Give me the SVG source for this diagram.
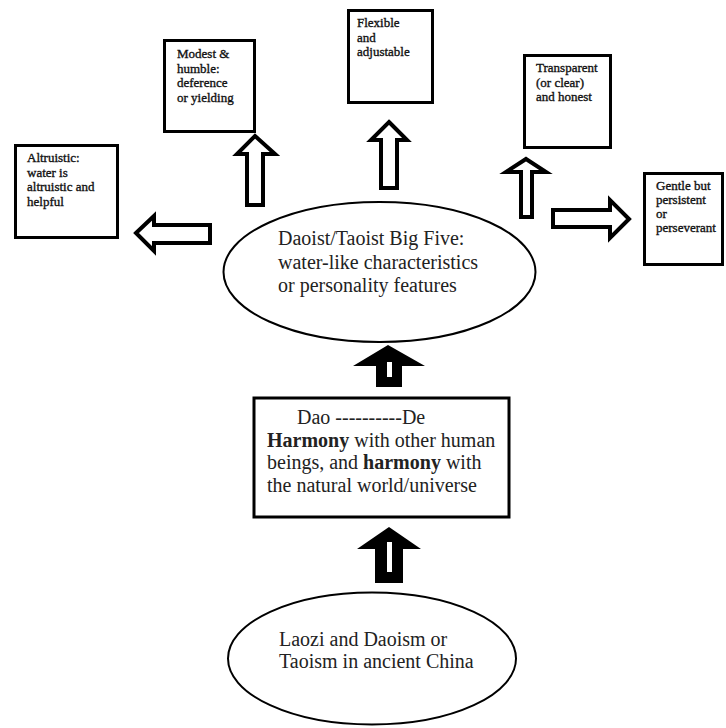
<svg xmlns="http://www.w3.org/2000/svg" width="726" height="728" viewBox="0 0 726 728">
<style>
.box{fill:#fff;stroke:#000;stroke-width:3}
.ell{fill:#fff;stroke:#000;stroke-width:2}
.oarrow{fill:#fff;stroke:#000;stroke-width:4;stroke-linejoin:miter}
.farrow{fill:#000;stroke:none}
.s{font-family:"Liberation Serif","Times New Roman",serif;font-size:13px;fill:#111;stroke:#111;stroke-width:0.35}
.l{font-family:"Liberation Serif","Times New Roman",serif;font-size:20px;fill:#222}
.b{font-weight:bold}
</style>
<rect width="726" height="728" fill="#fff"/>
<g id="connectors">
  <polygon class="oarrow" points="136,233 154,216 154,225 210,225 210,243 154,243 154,251"/>
  <polygon class="oarrow" points="255,136 275,154 263,154 263,205 247,205 247,154 237,154"/>
  <polygon class="oarrow" points="389,122 407,140 397,140 397,188 381,188 381,140 371,140"/>
  <polygon class="oarrow" points="526,159 546,172 532,172 532,217 521,217 521,172 506,172"/>
  <polygon class="oarrow" points="629,219 610,238 610,227 553,227 553,210 610,210 610,200"/>
  <polygon class="farrow" points="388,345 425,366 402,366 402,387 376,387 376,366 353,366"/>
  <rect x="387" y="362" width="5" height="15" fill="#fff"/>
  <polygon class="farrow" points="389,527 421,549 403,549 403,583 375,583 375,549 357,549"/>
  <rect x="387" y="542" width="5" height="30" fill="#fff"/>
</g>
<g id="altruistic">
  <rect class="box" x="15.5" y="145.5" width="102" height="92"/>
  <text class="s" x="27" y="162">Altruistic:</text>
  <text class="s" x="27" y="176.5">water is</text>
  <text class="s" x="27" y="191">altruistic and</text>
  <text class="s" x="27" y="205.5">helpful</text>
</g>
<g id="modest">
  <rect class="box" x="164.5" y="40.5" width="90" height="91"/>
  <text class="s" x="177" y="58">Modest &amp;</text>
  <text class="s" x="177" y="72.5">humble:</text>
  <text class="s" x="177" y="87">deference</text>
  <text class="s" x="177" y="101.5">or yielding</text>
</g>
<g id="flexible">
  <rect class="box" x="348.5" y="10.5" width="84" height="92"/>
  <text class="s" x="357" y="27">Flexible</text>
  <text class="s" x="357" y="41.5">and</text>
  <text class="s" x="357" y="56">adjustable</text>
</g>
<g id="transparent">
  <rect class="box" x="524.5" y="55.5" width="86" height="92"/>
  <text class="s" x="536" y="72">Transparent</text>
  <text class="s" x="536" y="86.5">(or clear)</text>
  <text class="s" x="536" y="101">and honest</text>
</g>
<g id="gentle">
  <rect class="box" x="644.5" y="173.5" width="78" height="91"/>
  <text class="s" x="656" y="190">Gentle but</text>
  <text class="s" x="656" y="204">persistent</text>
  <text class="s" x="656" y="218">or</text>
  <text class="s" x="656" y="232">perseverant</text>
</g>
<g id="bigfive">
  <ellipse class="ell" cx="379.5" cy="272" rx="156" ry="70"/>
  <text class="l" x="278" y="245">Daoist/Taoist Big Five:</text>
  <text class="l" x="278" y="269">water-like characteristics</text>
  <text class="l" x="278" y="292">or personality features</text>
</g>
<g id="daode">
  <rect class="box" x="254" y="398" width="255" height="119"/>
  <text class="l" x="297" y="424">Dao ----------De</text>
  <text class="l" x="267" y="447"><tspan class="b">Harmony</tspan> with other human</text>
  <text class="l" x="267" y="469">beings, and <tspan class="b">harmony</tspan> with</text>
  <text class="l" x="267" y="492">the natural world/universe</text>
</g>
<g id="laozi">
  <ellipse class="ell" cx="372" cy="658.5" rx="144" ry="66"/>
  <text class="l" x="279" y="646">Laozi and Daoism or</text>
  <text class="l" x="279" y="668">Taoism in ancient China</text>
</g>
</svg>
